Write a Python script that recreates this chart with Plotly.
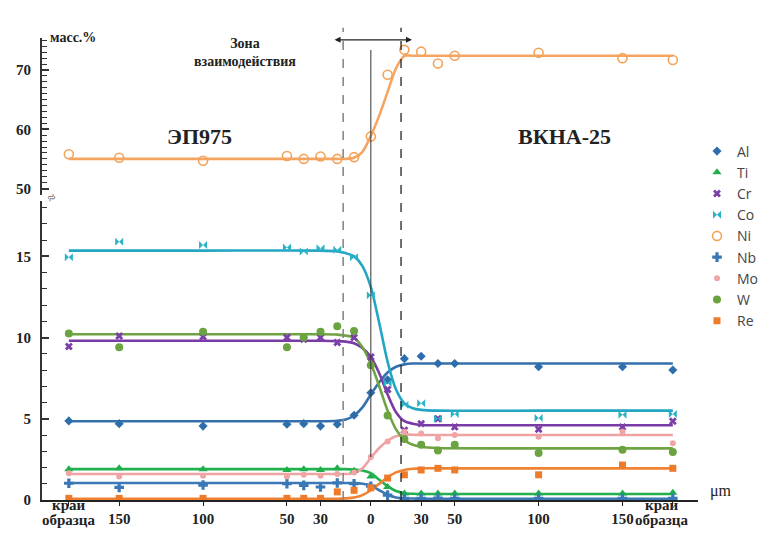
import plotly.graph_objects as go

# Measurement positions along the diffusion couple, µm (negative = ЭП975 side)
X_PTS = [-180, -150, -100, -50, -40, -30, -20, -10, 0, 10, 20, 30, 40, 50, 100, 150, 180]

# Measured concentrations, mass %
AL = [4.87, 4.70, 4.55, 4.67, 4.70, 4.55, 4.67, 5.22, 6.60, 7.40, 8.70, 8.85, 8.40, 8.40, 8.20, 8.20, 8.00]
TI = [1.90, 1.95, 1.90, 1.85, 1.90, 1.85, 1.95, 1.80, 1.45, 0.80, 0.40, 0.40, 0.40, 0.40, 0.40, 0.40, 0.45]
CR = [9.45, 10.10, 10.05, 10.00, 9.90, 10.00, 9.70, 10.00, 8.80, 6.80, 4.30, 4.70, 5.00, 4.50, 4.35, 4.50, 4.85]
CO = [14.95, 15.90, 15.70, 15.55, 15.30, 15.50, 15.40, 14.95, 12.60, 7.20, 5.85, 5.95, 5.00, 5.30, 5.05, 5.25, 5.30]
NI = [55.8, 55.2, 54.7, 55.5, 55.0, 55.4, 55.0, 55.3, 58.8, 69.2, 73.4, 73.1, 71.1, 72.4, 72.9, 72.0, 71.7]
NB = [1.03, 0.78, 0.92, 1.00, 0.90, 0.80, 1.05, 1.00, 0.85, 0.30, 0.10, 0.10, 0.12, 0.10, 0.10, 0.10, 0.10]
MO = [1.65, 1.45, 1.50, 1.45, 1.55, 1.50, 1.60, 1.70, 2.65, 3.60, 4.20, 4.10, 3.80, 4.00, 3.90, 4.20, 3.50]
W = [10.25, 9.40, 10.35, 9.40, 10.00, 10.35, 10.70, 10.40, 8.30, 5.20, 3.75, 3.40, 3.05, 3.40, 2.90, 3.10, 2.95]
RE = [0.10, 0.10, 0.10, 0.10, 0.10, 0.10, 0.50, 0.60, 0.75, 1.35, 1.55, 1.85, 1.95, 1.85, 1.55, 2.15, 1.95]

# Smoothed concentration profiles (fitted curves), sampled at these positions
FIT_X = [-180, -100, -30, -20, -15, -10, -5, 0, 5, 10, 15, 20, 25, 30, 40, 100, 180]
FIT_NI = [55.0, 55.0, 55.0, 55.0, 55.0, 55.2, 56.2, 58.9, 62.3, 66.3, 70.3, 72.4, 72.4, 72.4, 72.4, 72.4, 72.4]
FIT_CO = [15.35, 15.35, 15.35, 15.3, 15.2, 15.0, 14.4, 13.1, 10.9, 8.5, 6.8, 5.95, 5.65, 5.55, 5.5, 5.5, 5.5]
FIT_CR = [9.8, 9.8, 9.8, 9.78, 9.75, 9.65, 9.35, 8.8, 7.8, 6.5, 5.4, 4.85, 4.7, 4.62, 4.6, 4.6, 4.6]
FIT_W = [10.2, 10.2, 10.2, 10.18, 10.12, 10.0, 9.4, 8.4, 7.0, 5.5, 4.35, 3.7, 3.4, 3.28, 3.2, 3.18, 3.18]
FIT_AL = [4.85, 4.85, 4.85, 4.88, 4.95, 5.2, 5.7, 6.5, 7.25, 7.85, 8.2, 8.35, 8.4, 8.4, 8.4, 8.4, 8.4]
FIT_TI = [1.9, 1.9, 1.9, 1.9, 1.9, 1.88, 1.82, 1.65, 1.25, 0.85, 0.55, 0.42, 0.38, 0.37, 0.37, 0.37, 0.37]
FIT_NB = [1.05, 1.05, 1.05, 1.05, 1.05, 1.04, 1.0, 0.9, 0.6, 0.32, 0.15, 0.1, 0.09, 0.08, 0.08, 0.08, 0.08]
FIT_MO = [1.6, 1.6, 1.6, 1.6, 1.6, 1.65, 1.95, 2.6, 3.2, 3.65, 3.92, 4.02, 4.02, 4.0, 4.0, 4.0, 4.0]
FIT_RE = [0.08, 0.08, 0.08, 0.08, 0.1, 0.15, 0.3, 0.6, 1.0, 1.4, 1.7, 1.85, 1.92, 1.95, 1.95, 1.95, 1.95]

# Axis tick labels (sample edges are labelled separately below the axis)
X_TICK_VALS = [-180, -150, -100, -50, -30, 0, 30, 50, 100, 150, 180]
X_TICK_TEXT = ["", "150", "100", "50", "30", "0", "30", "50", "100", "150", ""]
EDGE_LABEL_X = [-180, 173.5]
EDGE_LABEL_LINES = ["край", "образца"]
Y_TICKS_LOW = [0, 5, 10, 15]
Y_TICKS_HIGH = [50, 60, 70]

# Interaction-zone boundaries, µm
ZONE_LEFT = -16.5
ZONE_RIGHT = 18.0

SERIF = "Liberation Serif"

# name, points, fit, marker symbol, marker colour, line colour, marker size, axis
ELEMENTS = [
    ("Al", AL, FIT_AL, "diamond", "#2F6EAD", "#3570AE", 7, "y"),
    ("Ti", TI, FIT_TI, "triangle-up", "#1FAE4B", "#22B14C", 8, "y"),
    ("Cr", CR, FIT_CR, "x", "#7B3FA8", "#7A3BA6", 7, "y"),
    ("Co", CO, FIT_CO, "bowtie", "#2AB3C6", "#23A6C4", 8, "y"),
    ("Ni", NI, FIT_NI, "circle-open", "#F2A35A", "#F5A561", 9, "y2"),
    ("Nb", NB, FIT_NB, "cross", "#3A78B5", "#3B78B6", 8, "y"),
    ("Mo", MO, FIT_MO, "circle", "#F0A5A5", "#EFA3A3", 6, "y"),
    ("W", W, FIT_W, "circle", "#6AA33F", "#6FA343", 8, "y"),
    ("Re", RE, FIT_RE, "square", "#EE7B2C", "#F08232", 7, "y"),
]

fig = go.Figure()

# fitted profiles
for name, pts, fit, sym, mcol, lcol, msize, yax in ELEMENTS:
    fig.add_trace(go.Scatter(
        x=FIT_X, y=fit, mode="lines", yaxis=yax, showlegend=False, hoverinfo="skip",
        line=dict(color=lcol, width=2.6, shape="spline", smoothing=0.8),
    ))

# measured points
for name, pts, fit, sym, mcol, lcol, msize, yax in ELEMENTS:
    marker = dict(symbol=sym, size=msize, color=mcol)
    if sym == "circle-open":
        marker["line"] = dict(width=1.6, color=mcol)
    fig.add_trace(go.Scatter(
        x=X_PTS, y=pts, mode="markers", name=name, yaxis=yax, marker=marker,
    ))

axis_font = dict(family=SERIF, size=15, color="#222")


def bold(labels):
    return [f"<b>{t}</b>" if t != "" else "" for t in labels]


y_common = dict(
    anchor="x", showline=True, linecolor="#333", linewidth=2, showgrid=False, zeroline=False,
    ticks="inside", ticklen=7, tickcolor="#333", tickwidth=1.5, tickfont=axis_font,
    ticklabelstandoff=6, automargin=False,
    minor=dict(ticks="inside", ticklen=5, dtick=1, tickcolor="#333", tickwidth=1.2),
)

fig.update_layout(
    width=772, height=540,
    margin=dict(l=42, r=74, t=38, b=40, autoexpand=False),
    paper_bgcolor="white", plot_bgcolor="white",
    xaxis=dict(
        range=[-196, 195], anchor="y", showline=True, linecolor="#222", linewidth=1.5,
        showgrid=False, zeroline=False, ticks="outside", ticklen=4, tickcolor="#222",
        tickvals=X_TICK_VALS, ticktext=bold(X_TICK_TEXT), tickfont=axis_font,
        tickangle=0, automargin=False,
    ),
    yaxis=dict(domain=[0, 0.647], range=[0, 18.4], tickvals=Y_TICKS_LOW,
               ticktext=bold(Y_TICKS_LOW), **y_common),
    yaxis2=dict(domain=[0.660, 1], range=[48.9, 75.4], tickvals=Y_TICKS_HIGH,
                ticktext=bold(Y_TICKS_HIGH), **y_common),
    legend=dict(
        xref="container", yref="container", x=697 / 772, y=1 - 135.5 / 540,
        xanchor="left", yanchor="top", itemwidth=30,
        font=dict(family="Open Sans", size=14, color="#444"),
        bgcolor="rgba(0,0,0,0)", tracegroupgap=0,
    ),
)

# zone boundaries and centre line
fig.add_shape(type="line", xref="x", yref="paper", x0=ZONE_LEFT, x1=ZONE_LEFT, y0=0, y1=1.022,
              line=dict(color="#888", width=1.6, dash="dash"))
fig.add_shape(type="line", xref="x", yref="paper", x0=ZONE_RIGHT, x1=ZONE_RIGHT, y0=0, y1=1.022,
              line=dict(color="#222", width=1.3, dash="dash"))
fig.add_shape(type="line", xref="x", yref="paper", x0=0, x1=0, y0=0.093, y1=0.974,
              line=dict(color="#333", width=1))

# width of the interaction zone
fig.add_annotation(xref="x", yref="paper", x=24.5, y=0.996, axref="x", ayref="pixel",
                   ax=-22.5, ay=0, text="", showarrow=True, arrowhead=2, arrowsize=1,
                   arrowwidth=1.2, arrowcolor="#222", arrowside="end+start")

# sample-edge labels under the x axis
for ex in EDGE_LABEL_X:
    for line_text, ypos in zip(EDGE_LABEL_LINES, [-0.0325, -0.0645]):
        fig.add_annotation(xref="x", yref="paper", x=ex, y=ypos, text=f"<b>{line_text}</b>",
                           showarrow=False, font=dict(family=SERIF, size=15, color="#222"))

fig.add_annotation(xref="paper", yref="paper", x=0.009, y=1.022, text="<b>масс.%</b>",
                   showarrow=False, font=dict(family=SERIF, size=14, color="#222"))
fig.add_annotation(xref="x", yref="paper", x=-75, y=1.009, text="<b>Зона<br>взаимодействия</b>",
                   showarrow=False, font=dict(family=SERIF, size=14, color="#222"))
fig.add_annotation(xref="x", yref="paper", x=-102, y=0.818, text="<b>ЭП975</b>",
                   showarrow=False, font=dict(family=SERIF, size=22, color="#222"))
fig.add_annotation(xref="x", yref="paper", x=115.6, y=0.818, text="<b>ВКНА-25</b>",
                   showarrow=False, font=dict(family=SERIF, size=22, color="#222"))
fig.add_annotation(xref="paper", yref="paper", x=1.055, y=-0.004, text="μm",
                   showarrow=False, font=dict(family=SERIF, size=16, color="#222"))
# axis break mark
fig.add_annotation(xref="paper", yref="paper", x=0.0, y=0.654, text="≈", textangle=-30,
                   showarrow=False, font=dict(family=SERIF, size=14, color="#555"))

fig.write_html("out.html")
